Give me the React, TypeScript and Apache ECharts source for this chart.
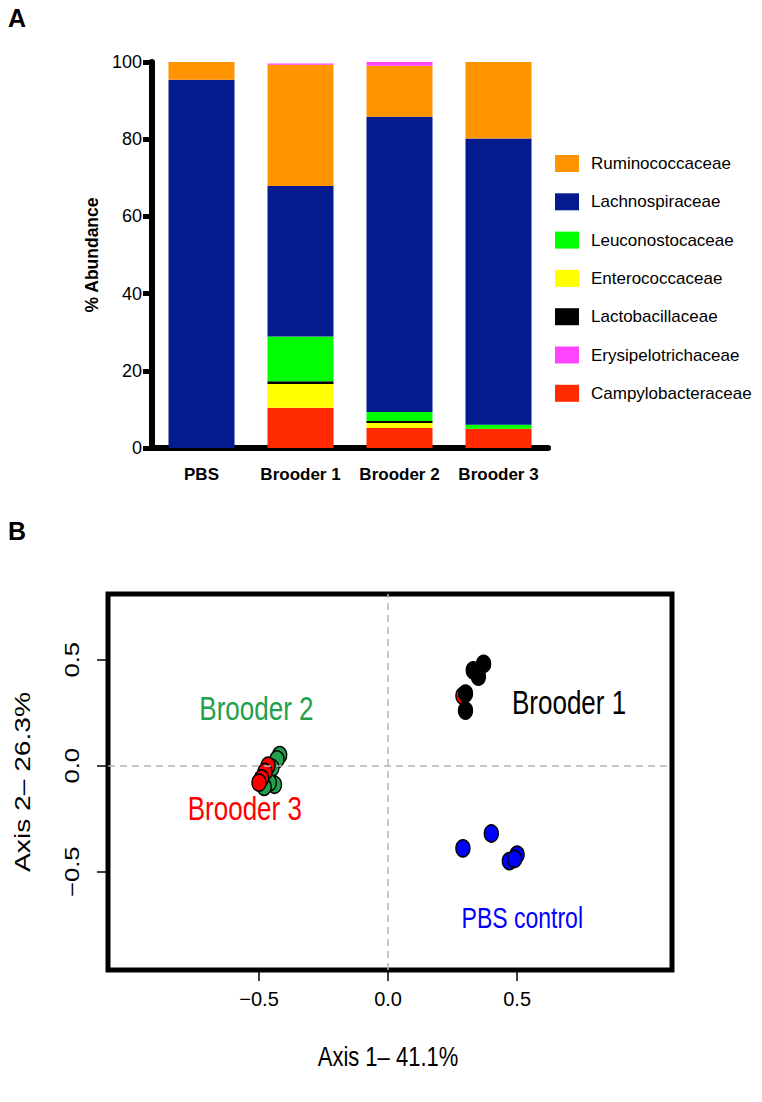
import React, { useEffect, useRef } from "react";
import * as echarts from "echarts";

const categories = ["PBS", "Brooder 1", "Brooder 2", "Brooder 3"];

// stacked from bottom to top
const campylobacteraceae = [0, 10.4, 5.2, 5.0];
const enterococcaceae = [0, 6.2, 1.3, 0];
const lactobacillaceae = [0, 0.7, 0.5, 0];
const leuconostocaceae = [0, 11.6, 2.3, 1.0];
const lachnospiraceae = [95.4, 39.0, 76.5, 74.2];
const ruminococcaceae = [4.6, 31.4, 13.2, 19.8];
const erysipelotrichaceae = [0, 0.3, 1.0, 0];

const legendOrder = [
  "Ruminococcaceae",
  "Lachnospiraceae",
  "Leuconostocaceae",
  "Enterococcaceae",
  "Lactobacillaceae",
  "Erysipelotrichaceae",
  "Campylobacteraceae",
];

// PCoA points [axis1, axis2]
const brooder1Pts = [
  [0.37, 0.48],
  [0.33, 0.45],
  [0.35, 0.42],
  [0.3, 0.34],
  [0.3, 0.26],
];
const brooder2Pts = [
  [-0.42, 0.05],
  [-0.43, 0.03],
  [-0.45, -0.01],
  [-0.44, -0.09],
  [-0.46, -0.08],
  [-0.48, -0.1],
];
const brooder3Pts = [
  [-0.465, 0.0],
  [-0.477, -0.03],
  [-0.49, -0.06],
  [-0.5, -0.08],
  [0.29, 0.33],
];
const pbsPts = [
  [0.29, -0.39],
  [0.4, -0.32],
  [0.5, -0.42],
  [0.47, -0.45],
  [0.49, -0.44],
];
const pcoaTicks = [-0.5, 0, 0.5];
const xTitle = "Axis 1\u2013 41.1%";
const yTitle = "Axis 2\u2013 26.3%";

const FONT = "Liberation Sans, Arial, sans-serif";
const STRETCH = 1.28;

const fmtMinus = (v: number) => (v < 0 ? "\u2212" + Math.abs(v).toFixed(1) : v.toFixed(1));

export default function App() {
  const ref = useRef<HTMLDivElement>(null);
  useEffect(() => {
    if (!ref.current) return;
    const chart = echarts.init(ref.current, null, { renderer: "svg" });
    const barSeries = [
      ["Campylobacteraceae", campylobacteraceae, "#FF2A00"],
      ["Enterococcaceae", enterococcaceae, "#FFFF00"],
      ["Lactobacillaceae", lactobacillaceae, "#000000"],
      ["Leuconostocaceae", leuconostocaceae, "#00FF00"],
      ["Lachnospiraceae", lachnospiraceae, "#041A8F"],
      ["Ruminococcaceae", ruminococcaceae, "#FF9300"],
      ["Erysipelotrichaceae", erysipelotrichaceae, "#FF44FF"],
    ].map(([name, data, color]) => ({
      name,
      type: "bar",
      stack: "total",
      xAxisIndex: 0,
      yAxisIndex: 0,
      barWidth: 66,
      data,
      itemStyle: { color },
    }));

    const scatterBase = (name: string, data: number[][], color: string) => ({
      name,
      type: "scatter",
      xAxisIndex: 1,
      yAxisIndex: 1,
      data,
      symbol: "circle",
      symbolSize: [14, 17],
      itemStyle: { color, borderColor: "#000", borderWidth: 1.5, opacity: 1 },
    });

    chart.setOption({
      animation: false,
      textStyle: { fontFamily: FONT },
      grid: [
        { left: 152, top: 62, width: 396, height: 386, show: false },
        {
          left: 108,
          top: 594,
          width: 564,
          height: 376,
          show: true,
          borderColor: "#000",
          borderWidth: 5,
        },
      ],
      legend: {
        data: legendOrder,
        orient: "vertical",
        left: 555,
        top: 155,
        padding: 0,
        itemWidth: 24,
        itemHeight: 17,
        itemGap: 21.3,
        icon: "rect",
        selectedMode: false,
        textStyle: { fontSize: 17, color: "#000", fontFamily: FONT, padding: [0, 0, 0, 7] },
      },
      xAxis: [
        {
          type: "category",
          gridIndex: 0,
          data: categories,
          axisLine: { lineStyle: { color: "#000", width: 6 } },
          axisTick: { alignWithLabel: true, interval: 0, length: 9, lineStyle: { color: "#000", width: 5 } },
          axisLabel: { interval: 0, fontSize: 17, fontWeight: "bold", color: "#000", margin: 18, fontFamily: FONT },
        },
        {
          type: "value",
          gridIndex: 1,
          min: -1.085,
          max: 1.1,
          axisLine: { show: false, onZero: false },
          splitLine: { show: false },
          axisTick: {
            show: true,
            length: 11,
            customValues: pcoaTicks,
            lineStyle: { color: "#000", width: 1.5 },
          },
          axisLabel: {
            customValues: pcoaTicks,
            fontSize: 20,
            color: "#000",
            margin: 19,
            fontFamily: FONT,
            formatter: fmtMinus,
          },
        },
      ],
      yAxis: [
        {
          type: "value",
          gridIndex: 0,
          min: 0,
          max: 100,
          interval: 20,
          splitLine: { show: false },
          axisLine: { show: true, lineStyle: { color: "#000", width: 6 } },
          axisTick: { show: true, length: 9, lineStyle: { color: "#000", width: 5 } },
          axisLabel: { fontSize: 18, color: "#000", margin: 10, fontFamily: FONT },
          name: "% Abundance",
          nameLocation: "middle",
          nameGap: 50,
          nameTextStyle: { fontSize: 17.5, fontWeight: "bold", color: "#000", fontFamily: FONT },
        },
        {
          type: "value",
          gridIndex: 1,
          min: -0.964,
          max: 0.81,
          axisLine: { show: false, onZero: false },
          splitLine: { show: false },
          axisTick: {
            show: true,
            length: 11,
            customValues: pcoaTicks,
            lineStyle: { color: "#000", width: 1.5 },
          },
          axisLabel: { show: false },
        },
      ],
      series: [
        ...barSeries,
        {
          ...scatterBase("Brooder 2", brooder2Pts, "#22A04B"),
          markLine: {
            silent: true,
            symbol: "none",
            label: { show: false },
            lineStyle: { color: "#b5b5b5", type: [7, 5], width: 1.5 },
            data: [{ xAxis: 0 }, { yAxis: 0 }],
          },
        },
        scatterBase("Brooder 3", brooder3Pts, "#FF0000"),
        scatterBase("Brooder 1", brooder1Pts, "#000000"),
        scatterBase("PBS control", pbsPts, "#0000FF"),
      ],
    });

    // rotated (vertically stretched) y tick labels and titles placed through the axis scales
    const gridRect = { left: 108, top: 594, width: 564, height: 376 };
    const midY = gridRect.top + gridRect.height / 2;
    const midX = gridRect.left + gridRect.width / 2;
    const yTickTexts = pcoaTicks.map((v) => {
      const py = chart.convertToPixel({ yAxisIndex: 1 }, v) as number;
      return {
        type: "text",
        x: 72,
        y: py,
        rotation: Math.PI / 2,
        scaleX: STRETCH,
        style: {
          text: fmtMinus(v),
          fontSize: 20,
          fill: "#000",
          fontFamily: FONT,
          textAlign: "center",
          textVerticalAlign: "middle",
        },
      };
    });
    const annot = (text: string, v: number[], color: string, size: number, align = "center") => {
      const p = chart.convertToPixel({ xAxisIndex: 1, yAxisIndex: 1 }, v) as number[];
      return {
        type: "text",
        x: p[0],
        y: p[1],
        scaleY: STRETCH,
        style: {
          text,
          fontSize: size,
          fill: color,
          fontFamily: FONT,
          textAlign: align,
          textVerticalAlign: "middle",
        },
      };
    };
    chart.setOption({
      graphic: [
        { type: "text", left: 8, top: 5, style: { text: "A", fontSize: 25, fontWeight: "bold", fill: "#000", fontFamily: FONT } },
        { type: "text", left: 8, top: 518, style: { text: "B", fontSize: 25, fontWeight: "bold", fill: "#000", fontFamily: FONT } },
        ...yTickTexts,
        {
          type: "text",
          x: 22,
          y: midY,
          rotation: Math.PI / 2,
          scaleX: STRETCH,
          style: { text: yTitle, fontSize: 22, fill: "#000", fontFamily: FONT, textAlign: "center", textVerticalAlign: "middle" },
        },
        {
          type: "text",
          x: midX - 2,
          y: 1056,
          scaleY: STRETCH,
          style: { text: xTitle, fontSize: 22, fill: "#000", fontFamily: FONT, textAlign: "center", textVerticalAlign: "middle" },
        },
        annot("Brooder 1", [0.48, 0.3], "#000000", 26, "left"),
        annot("Brooder 2", [-0.51, 0.27], "#22A04B", 26),
        annot("Brooder 3", [-0.555, -0.2], "#FF0000", 26),
        annot("PBS control", [0.52, -0.72], "#0000FF", 23),
      ],
    });
    return () => chart.dispose();
  }, []);
  return (
    <div
      ref={ref}
      style={{ position: "absolute", left: 0, top: 0, width: 762, height: 1102 }}
    />
  );
}
